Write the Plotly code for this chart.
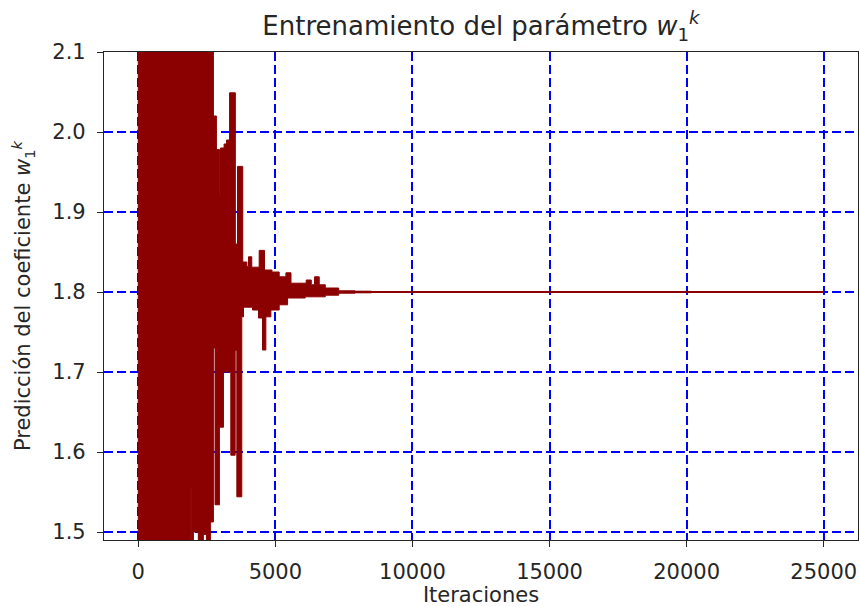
import plotly.graph_objects as go

# Training trajectory of w1 over the iterations.
# Early iterations oscillate violently, so the series is summarised by the
# piecewise-constant envelope it sweeps out (start iteration of each step, value).
up_iter = [0, 2740, 2850, 2960, 3000, 3130, 3220, 3330, 3540, 3620, 3810, 3960,
           4020, 4140, 4410, 4605, 4875, 5140, 5385, 5570, 6125, 6310, 6430,
           6600, 6820, 7310, 7900]
up_val = [2.13, 2.020, 1.978, 1.920, 1.980, 1.985, 1.990, 2.049, 1.860, 1.957,
          1.8375, 1.832, 1.844, 1.831, 1.852, 1.8275, 1.825, 1.819, 1.824,
          1.811, 1.815, 1.809, 1.819, 1.809, 1.805, 1.8015, 1.801]

lo_iter = [0, 1920, 1945, 2010, 2190, 2375, 2485, 2630, 2740, 2800, 2960, 3107,
           3375, 3534, 3595, 3775, 3838, 4167, 4386, 4532, 4653, 4836, 5140,
           5446, 6090, 6820, 7310, 7900]
lo_val = [1.46, 1.555, 1.46, 1.500, 1.46, 1.497, 1.46, 1.5125, 1.730, 1.534,
          1.631, 1.700, 1.596, 1.727, 1.544, 1.769, 1.781, 1.7775, 1.7675,
          1.7275, 1.769, 1.7775, 1.784, 1.7925, 1.794, 1.796, 1.7985, 1.799]

band_end = 8500

# Converged part of the trajectory
conv_iter = [6820, 8500, 12000, 16000, 20000, 25000]
conv_val = [1.80, 1.80, 1.80, 1.80, 1.80, 1.80]

x_ticks = [0, 5000, 10000, 15000, 20000, 25000]
y_ticks = [1.5, 1.6, 1.7, 1.8, 1.9, 2.0, 2.1]

RED = "#8b0000"
GRID = "#0000ff"
INK = "#262626"
FONT = "DejaVu Sans"


def step_edge(xs, ys, x_end):
    px, py = [], []
    for i, (x, y) in enumerate(zip(xs, ys)):
        nxt = xs[i + 1] if i + 1 < len(xs) else x_end
        px += [x, nxt]
        py += [y, y]
    return px, py


ux, uy = step_edge(up_iter, up_val, band_end)
lx, ly = step_edge(lo_iter, lo_val, band_end)

fig = go.Figure()
fig.add_trace(go.Scatter(
    x=ux + lx[::-1] + [ux[0]], y=uy + ly[::-1] + [uy[0]],
    mode="lines", fill="toself", fillcolor=RED,
    line=dict(color=RED, width=1, simplify=False),
    hoverinfo="skip", showlegend=False,
))
fig.add_trace(go.Scatter(
    x=conv_iter, y=conv_val, mode="lines",
    line=dict(color=RED, width=2.2), showlegend=False,
))

axis_common = dict(
    showgrid=True, gridcolor=GRID, gridwidth=1.5, griddash="9px,4px",
    showline=True, linecolor=INK, linewidth=1.2, mirror=True,
    ticks="outside", ticklen=6, tickwidth=1.2, tickcolor=INK,
    zeroline=False, ticklabelstandoff=7, automargin=False,
    tickfont=dict(family=FONT, size=21, color=INK),
)

fig.update_layout(
    width=860, height=607,
    margin=dict(l=104, r=2, t=52, b=67),
    paper_bgcolor="white", plot_bgcolor="white",
    title=dict(
        text="Entrenamiento del parámetro <i>w</i><sub>1</sub><sup><i>k</i></sup>",
        x=0.5, xref="paper", xanchor="center",
        y=1 - 26 / 607, yref="container", yanchor="middle",
        font=dict(family=FONT, size=26, color=INK),
    ),
    xaxis=dict(
        range=[-1250, 26250], tickvals=x_ticks,
        ticktext=[str(v) for v in x_ticks],
        title=dict(text="Iteraciones", standoff=10,
                   font=dict(family=FONT, size=21, color=INK)),
        **axis_common,
    ),
    yaxis=dict(
        range=[1.49, 2.1], tickvals=y_ticks,
        ticktext=[f"{v:.1f}" for v in y_ticks],
        title=dict(text="Predicción del coeficiente <i>w</i><sub>1</sub><sup><i>k</i></sup>",
                   standoff=15,
                   font=dict(family=FONT, size=21, color=INK)),
        **axis_common,
    ),
)

fig.write_html("out.html")
